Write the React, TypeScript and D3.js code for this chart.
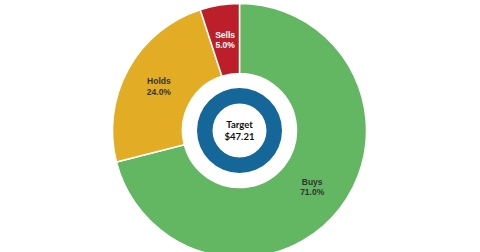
import React from "react";
import * as d3 from "d3";

const categories = ["Buys", "Holds", "Sells"];
const values = [71.0, 24.0, 5.0];
const colors = ["#63b662", "#e2ad25", "#bd1f2a"];
const labelColors = ["#333333", "#333333", "#ffffff"];
const targetLabel = "Target";
const targetValue = "$47.21";

const W = 480;
const H = 252;
const cx = 239.5;
const cy = 130.5;
const outerR = 127;
const innerR = 57;
const ringOuter = 42.5;
const ringInner = 27;

export default function App() {
  const pie = d3
    .pie<number>()
    .sort(null)
    .value((d) => d);
  const arcs = pie(values);
  const arc = d3.arc<d3.PieArcDatum<number>>().innerRadius(innerR).outerRadius(outerR);
  const ring = d3.arc()({
    innerRadius: ringInner,
    outerRadius: ringOuter,
    startAngle: 0,
    endAngle: 2 * Math.PI,
  } as any) as string;
  const font = "'Liberation Sans', Arial, sans-serif";
  return (
    <svg
      width={W}
      height={H}
      style={{ position: "absolute", left: 0, top: 0, display: "block" }}
    >
      <rect width={W} height={H} fill="#ffffff" />
      <g transform={`translate(${cx},${cy})`}>
        {arcs.map((a, i) => (
          <path
            key={categories[i]}
            d={arc(a) as string}
            fill={colors[i]}
            stroke="#ffffff"
            strokeWidth={1.5}
          />
        ))}
        {arcs.map((a, i) => {
          const [x, y] = arc.centroid(a);
          return (
            <text
              key={"l" + categories[i]}
              x={x}
              y={y}
              textAnchor="middle"
              fontFamily={font}
              fontWeight="bold"
              fontSize={8.5}
              fill={labelColors[i]}
            >
              <tspan x={x} dy={-2}>
                {categories[i]}
              </tspan>
              <tspan x={x} dy={10.5}>
                {values[i].toFixed(1) + "%"}
              </tspan>
            </text>
          );
        })}
        <path d={ring} fill="#156699" />
        <text
          textAnchor="middle"
          fontFamily="Lato, 'Open Sans', sans-serif"
          fontWeight="bold"
          fontSize={9.5}
          fill="#111111"
        >
          <tspan x={0} y={-2.5}>
            {targetLabel}
          </tspan>
          <tspan x={0} y={9}>
            {targetValue}
          </tspan>
        </text>
      </g>
    </svg>
  );
}
